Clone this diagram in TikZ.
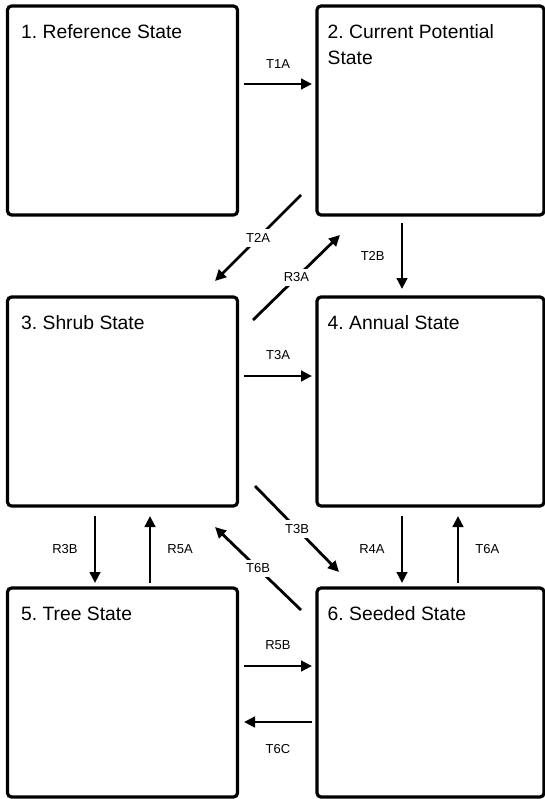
\documentclass[tikz,border=0pt]{standalone}
\usepackage{fontspec}
\setmainfont{Liberation Sans}
\frenchspacing
\usetikzlibrary{arrows.meta,positioning,calc}
\tikzset{
  statebox/.style={draw=black, line width=3.2pt, rounded corners=4pt, fill=white,
                   outer sep=0pt, inner sep=0pt, minimum height=209pt},
  leftcol/.style={statebox, minimum width=230pt},
  rightcol/.style={statebox, minimum width=227pt},
  title/.style={anchor=base west, inner sep=0pt, align=left,
                font=\fontsize{19.3}{26}\selectfont},
  arr/.style={-{Triangle[length=11pt,width=10.5pt]}, line width=2.8pt},
  lbl/.style={font=\fontsize{13}{15}\selectfont, inner sep=2pt},
  cut/.style={lbl, fill=white, inner sep=4pt}
}

\begin{document}
\begin{tikzpicture}[x=1pt, y=-1pt]
\useasboundingbox (0,0) rectangle (544,799);
% state boxes
\node[leftcol]  (s1) at (122.5,110.5) {};
\node[rightcol] (s2) at (430.5,110.5) {};
\node[leftcol]  (s3) at (122.5,401.5) {};
\node[rightcol] (s4) at (430.5,401.5) {};
\node[leftcol]  (s5) at (122.5,692.5) {};
\node[rightcol] (s6) at (430.5,692.5) {};
% state names
\node[title] (n1) at ([xshift=13.5pt,yshift=-32.5pt]s1.north west) {1. Reference State};
\node[title] (n2) at ([xshift=10.5pt,yshift=-58.5pt]s2.north west) {2. Current Potential\\State};
\node[title] (n3) at ([xshift=13.5pt,yshift=-32.5pt]s3.north west) {3. Shrub State};
\node[title] (n4) at ([xshift=10.5pt,yshift=-32.5pt]s4.north west) {4. Annual State};
\node[title] (n5) at ([xshift=13.5pt,yshift=-32.5pt]s5.north west) {5. Tree State};
\node[title] (n6) at ([xshift=10.5pt,yshift=-32.5pt]s6.north west) {6. Seeded State};
% Row 1 -> Row 2
\draw[arr] ([xshift=6.5pt,yshift=26.5pt]s1.east) -- ([xshift=-5pt,yshift=26.5pt]s2.west)
  node[midway, above=12.5pt, lbl] {T1A};
\draw[arr] ([xshift=-16pt,yshift=20pt]s2.south west) -- node[cut] {T2A} ([xshift=-22.5pt,yshift=16pt]s3.north east);
\draw[arr] ([xshift=15.5pt,yshift=-23pt]s3.north east) -- node[cut] {R3A} ([xshift=23pt,yshift=-20pt]s2.south west);
\draw[arr] ([xshift=-28.5pt,yshift=-8pt]s2.south) -- node[lbl, left=14pt] {T2B} ([xshift=-28.5pt,yshift=8pt]s4.north);
% Row 2
\draw[arr] ([xshift=6.5pt,yshift=25.5pt]s3.east) -- ([xshift=-5pt,yshift=25.5pt]s4.west)
  node[midway, above=12.5pt, lbl] {T3A};
% Row 2 -> Row 3
\draw[arr] ([xshift=-27.5pt,yshift=-10pt]s3.south) -- node[lbl, left=14pt] {R3B} ([xshift=-27.5pt,yshift=5pt]s5.north);
\draw[arr] ([xshift=27.5pt,yshift=5pt]s5.north) -- node[lbl, right=14pt] {R5A} ([xshift=27.5pt,yshift=-10pt]s3.south);
\draw[arr] ([xshift=17.5pt,yshift=20pt]s3.south east) -- node[cut] {T3B} ([xshift=22pt,yshift=16pt]s6.north west);
\draw[arr] ([xshift=-16pt,yshift=-22pt]s6.north west) -- node[cut] {T6B} ([xshift=-22.5pt,yshift=-21pt]s3.south east);
\draw[arr] ([xshift=-28.5pt,yshift=-10pt]s4.south) -- node[lbl, left=14pt] {R4A} ([xshift=-28.5pt,yshift=5pt]s6.north);
\draw[arr] ([xshift=27.5pt,yshift=5pt]s6.north) -- node[lbl, right=14pt] {T6A} ([xshift=27.5pt,yshift=-10pt]s4.south);
% Row 3
\draw[arr] ([xshift=6.5pt,yshift=26.5pt]s5.east) -- ([xshift=-5pt,yshift=26.5pt]s6.west)
  node[midway, above=12.5pt, lbl] {R5B};
\draw[arr] ([xshift=-5pt,yshift=-29.5pt]s6.west) -- ([xshift=6.5pt,yshift=-29.5pt]s5.east)
  node[midway, below=19.5pt, lbl] {T6C};
\end{tikzpicture}
\end{document}
